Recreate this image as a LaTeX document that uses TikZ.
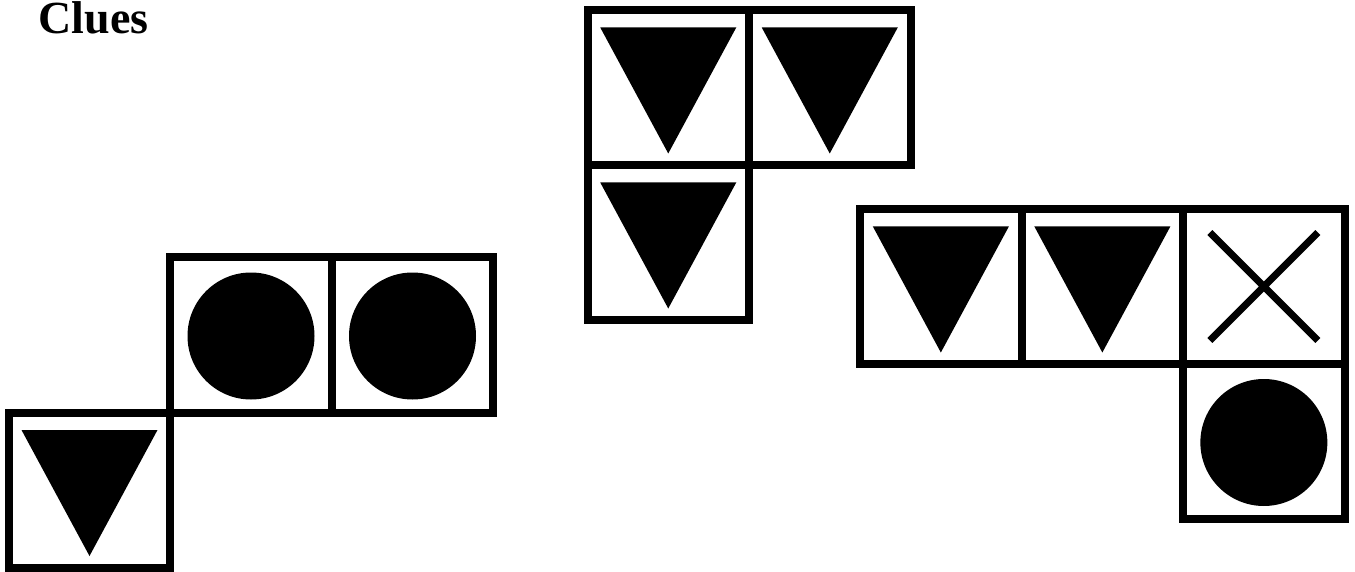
\documentclass[tikz,border=0pt]{standalone}
\usepackage{fontspec}
\setmainfont{Liberation Serif}
\usetikzlibrary{positioning}

\begin{document}
\begin{tikzpicture}[x=1pt, y=-1pt,
  cell/.style={draw, line width=8pt, outer sep=0pt, inner sep=0pt,
    minimum width=161.5pt, minimum height=155pt},
  crossline/.style={line width=7pt}]
  \useasboundingbox (0,0) rectangle (1355,572);
  % marks drawn inside a cell
  \def\trimark#1{\fill (#1.center) ++(-68,-60) -- ++(136,0) -- ++(-68,126) -- cycle;}
  \def\dotmark#1{\fill (#1.center) ++(0,1) circle[radius=63.5pt];}
  \def\crossmark#1{\draw[crossline] (#1.center) ++(-54,-54) -- ++(108,108)
    (#1.center) ++(54,-54) -- ++(-108,108);}
  \node[font=\fontsize{46}{52}\selectfont\bfseries, anchor=base west, inner sep=0pt,
    text height=29pt, text depth=0pt] (title) at (38.5,33.2) {Clues};
  % --- left group ---
  \node[cell] (a1) at (251,335) {};
  \node[cell, right=0pt of a1] (a2) {};
  \node[cell, below left=0pt of a1] (a3) {};
  \dotmark{a1} \dotmark{a2} \trimark{a3}
  % --- middle group ---
  \node[cell] (b1) at (668.25,87.5) {};
  \node[cell, right=0pt of b1] (b2) {};
  \node[cell, below=0pt of b1] (b3) {};
  \trimark{b1} \trimark{b2} \trimark{b3}
  % --- right group ---
  \node[cell] (c1) at (940.85,286.5) {};
  \node[cell, right=0pt of c1] (c2) {};
  \node[cell, right=0pt of c2] (c3) {};
  \node[cell, below=0pt of c3] (c4) {};
  \trimark{c1} \trimark{c2} \crossmark{c3} \dotmark{c4}
\end{tikzpicture}
\end{document}
